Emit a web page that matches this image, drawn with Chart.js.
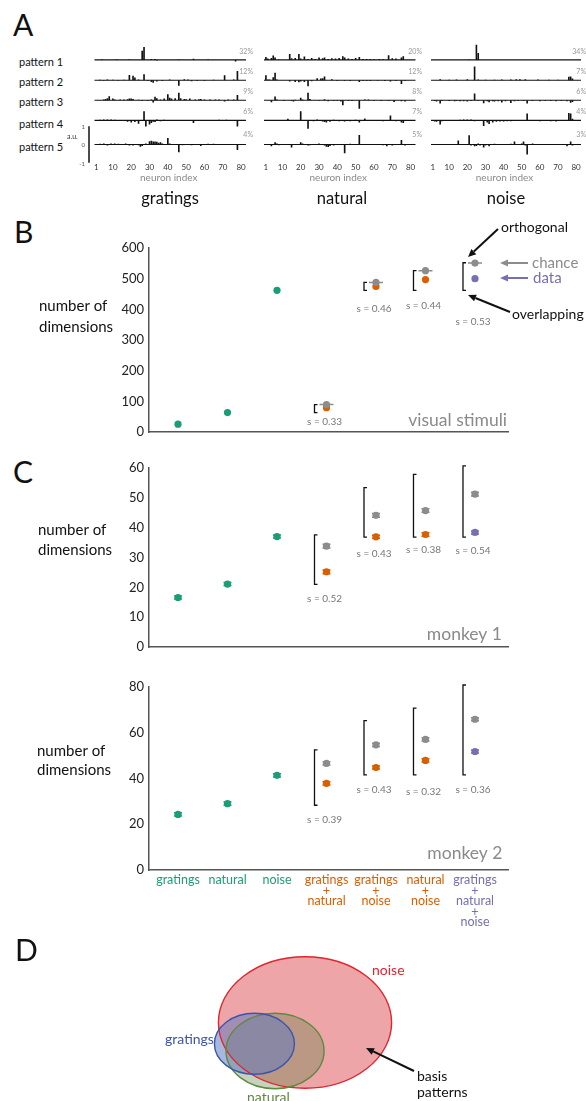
<!DOCTYPE html>
<html>
<head>
<meta charset="utf-8">
<script src="https://cdn.jsdelivr.net/npm/chart.js@4.4.1/dist/chart.umd.min.js"></script>
<style>
  body { margin: 0; width: 586px; height: 1101px; overflow: hidden; background: #fff; position: relative; font-family: Lato, "Open Sans", sans-serif; }
  canvas { position: absolute; }
  .t { position: absolute; white-space: nowrap; line-height: 1; }
</style>
</head>
<body>
<script>
// ---------- panel A: basis patterns (sparse: [neuron, value], rest are 0) ----------
const neuronTicks = [1, 10, 20, 30, 40, 50, 60, 70, 80];
const patternNames = ['pattern 1', 'pattern 2', 'pattern 3', 'pattern 4', 'pattern 5'];
const stimNames = ['gratings', 'natural', 'noise'];
const gratingsPct = ['32%', '12%', '9%', '6%', '4%'];
const naturalPct = ['20%', '12%', '8%', '7%', '5%'];
const noisePct = ['34%', '7%', '6%', '4%', '3%'];

const gratingsP1 = [[4,0.02],[12,0.02],[19,0.03],[26,0.55],[27,0.78],[31,0.06],[33,0.05],[34,-0.03],[46,0.03],[54,0.07],[62,0.02],[77,-0.09]];
const gratingsP2 = [[3,0.03],[5,-0.03],[7,0.04],[10,0.03],[13,-0.03],[16,0.03],[19,0.31],[21,0.27],[22,0.17],[24,0.05],[27,0.36],[29,-0.05],[31,-0.1],[32,-0.15],[34,-0.08],[37,-0.05],[41,0.04],[46,-0.33],[49,0.06],[51,0.05],[53,-0.06],[56,-0.04],[60,-0.05],[65,0.03],[71,0.3],[76,0.04],[78,0.55]];
const gratingsP3 = [[5,0.05],[6,0.08],[7,0.12],[8,0.24],[10,0.1],[11,0.05],[14,0.05],[16,0.04],[18,0.06],[19,0.1],[20,0.1],[21,0.08],[24,0.03],[26,-0.05],[29,-0.05],[31,0.05],[32,-0.14],[33,0.2],[34,0.12],[36,0.05],[38,0.1],[40,0.36],[41,0.15],[42,0.1],[44,0.12],[46,0.45],[47,0.12],[49,0.08],[50,0.06],[52,0.1],[55,0.04],[57,0.06],[58,0.08],[60,0.05],[63,0.04],[66,0.05],[68,0.04],[71,-0.08],[73,0.05],[76,0.04],[78,0.31]];
const gratingsP4 = [[3,0.04],[5,0.05],[7,0.05],[9,0.06],[11,0.04],[18,-0.08],[20,-0.12],[22,-0.1],[24,-0.2],[27,0.55],[28,-0.36],[30,-0.25],[31,-0.15],[32,-0.08],[33,-0.1],[34,0.05],[36,-0.05],[38,0.04],[41,-0.04],[45,0.03],[49,0.03],[54,-0.16],[58,0.03],[63,0.03],[68,0.04],[72,0.04],[78,-0.36]];
const gratingsP5 = [[3,0.04],[5,0.06],[7,-0.05],[9,0.05],[11,0.05],[13,0.04],[17,0.05],[19,-0.05],[21,-0.06],[24,-0.04],[25,-0.12],[26,-0.08],[28,0.05],[30,0.18],[31,0.2],[32,0.16],[33,0.16],[34,0.15],[35,0.1],[36,0.12],[37,0.05],[40,0.36],[41,0.05],[46,-0.42],[48,-0.04],[53,-0.04],[58,-0.08],[62,0.04],[65,0.04],[68,0.03],[73,0.03],[78,-0.3]];

const naturalP1 = [[1,0.18],[2,0.08],[4,0.12],[5,0.27],[6,0.15],[8,0.03],[14,0.36],[15,0.1],[17,0.12],[19,0.36],[20,0.08],[22,0.2],[24,0.05],[26,0.12],[28,0.05],[30,0.15],[32,0.1],[33,0.15],[35,0.05],[37,0.1],[39,0.08],[41,0.12],[43,0.22],[44,0.15],[46,0.08],[48,0.05],[50,0.12],[52,0.18],[54,0.06],[56,0.05],[58,0.05],[60,0.04],[63,0.05],[65,0.04],[68,0.28],[70,0.1],[72,0.08],[75,0.15],[76,0.22]];
const naturalP2 = [[1,0.3],[2,0.05],[3,0.05],[5,0.18],[6,0.45],[7,0.05],[14,-0.08],[17,-0.1],[19,-0.12],[20,-0.08],[22,-0.1],[24,-0.36],[26,-0.06],[29,0.12],[31,0.1],[32,0.12],[33,0.22],[37,0.06],[40,-0.04],[44,-0.05],[47,-0.04],[52,-0.1],[54,-0.05],[56,-0.04],[58,-0.05],[62,-0.03],[66,-0.04],[69,-0.08],[72,-0.04],[75,-0.22],[77,-0.05]];
const naturalP3 = [[4,-0.12],[6,0.22],[7,0.05],[11,-0.04],[15,-0.04],[16,-0.08],[17,0.03],[20,0.15],[21,0.05],[24,0.45],[25,0.08],[30,-0.03],[33,0.06],[35,-0.06],[38,-0.04],[40,-0.05],[42,-0.08],[43,-0.3],[46,-0.05],[48,-0.04],[52,-0.5],[55,0.05],[57,0.05],[60,-0.04],[64,-0.05],[68,-0.05],[71,-0.1],[75,-0.06],[77,-0.08]];
const naturalP4 = [[3,-0.03],[8,-0.04],[13,0.1],[20,0.55],[24,-0.51],[27,-0.05],[29,0.05],[32,-0.06],[33,-0.1],[34,-0.12],[36,-0.08],[38,0.04],[41,-0.05],[44,-0.06],[47,-0.05],[50,0.04],[52,-0.12],[55,0.12],[59,-0.04],[62,0.03],[65,-0.05],[69,0.3],[72,-0.05],[75,-0.12],[76,-0.15]];
const naturalP5 = [[4,-0.1],[6,0.12],[7,0.05],[8,-0.04],[10,-0.03],[11,-0.03],[15,-0.16],[18,0.03],[20,0.12],[21,0.06],[24,-0.05],[25,-0.04],[28,0.03],[30,0.06],[33,-0.05],[34,-0.12],[35,-0.13],[36,-0.08],[38,-0.05],[40,0.03],[44,-0.48],[47,0.04],[52,0.52],[55,0.03],[60,0.03],[65,-0.04],[67,-0.1],[70,-0.05],[75,0.25],[77,-0.05]];

const noiseP1 = [[21,0.02],[25,0.91],[26,0.42]];
const noiseP2 = [[5,0.06],[10,0.03],[14,0.05],[20,0.06],[24,0.82],[26,0.04],[30,0.03],[35,0.03],[39,0.04],[44,0.05],[47,0.06],[49,0.06],[52,0.06],[59,0.05],[65,0.03],[70,0.03],[76,0.2],[77,0.22],[78,0.1]];
const noiseP3 = [[2,-0.05],[3,-0.08],[5,-0.2],[6,-0.05],[10,-0.05],[13,-0.06],[14,-0.05],[16,-0.06],[18,-0.06],[20,-0.08],[22,-0.05],[24,0.4],[26,-0.04],[29,-0.18],[31,-0.06],[32,-0.12],[34,-0.06],[35,-0.08],[37,-0.06],[39,-0.14],[41,-0.06],[44,-0.16],[46,-0.06],[48,-0.05],[51,-0.05],[53,-0.2],[56,-0.05],[60,-0.06],[63,-0.04],[66,-0.05],[69,-0.06],[72,-0.05],[75,-0.06],[77,-0.15],[78,-0.1]];
const noiseP4 = [[2,-0.06],[3,-0.08],[5,-0.25],[6,-0.05],[9,-0.04],[12,-0.04],[16,0.04],[18,0.05],[20,0.05],[22,0.06],[24,-0.05],[26,-0.04],[29,-0.33],[31,-0.12],[32,-0.22],[34,-0.12],[36,-0.08],[38,-0.06],[40,-0.06],[42,-0.05],[44,-0.05],[46,-0.04],[53,0.42],[57,-0.04],[60,-0.05],[63,-0.04],[66,-0.05],[69,-0.06],[72,-0.04],[76,0.45],[77,0.42],[78,0.1]];
const noiseP5 = [[2,-0.03],[6,-0.03],[10,0.02],[15,0.22],[16,-0.03],[21,0.5],[22,-0.05],[24,-0.1],[25,-0.08],[26,0.05],[27,-0.05],[29,-0.16],[30,-0.06],[32,-0.1],[35,0.04],[40,0.03],[44,0.04],[46,0.17],[50,0.05],[51,0.16],[52,-0.06],[53,-0.55],[56,0.06],[60,0.03],[66,0.03],[70,0.03],[75,-0.1],[77,0.16],[78,-0.05]];

// ---------- panels B and C: number of dimensions ----------
const categoryLines = [['gratings'], ['natural'], ['noise'], ['gratings', '+', 'natural'], ['gratings', '+', 'noise'], ['natural', '+', 'noise'], ['gratings', '+', 'natural', '+', 'noise']];

const visualData = [26, 64, 462, 80, 475, 497, 500];
const visualChance = [null, null, null, 90, 488, 526, 551];
const visualChanceErr = [null, null, null, 0, 0, 0, 0];
const visualLow = [null, null, null, 64, 462, 462, 462];
const visualHigh = [null, null, null, 90, 488, 526, 552];
const visualS = [null, null, null, '0.33', '0.46', '0.44', '0.53'];

const monkey1Data = [16.6, 21.1, 37.0, 25.2, 36.9, 37.7, 38.4];
const monkey1DataErr = [0.5, 0.5, 0.5, 0.6, 0.5, 0.6, 0.5];
const monkey1Chance = [null, null, null, 33.8, 44.1, 45.7, 51.2];
const monkey1ChanceErr = [null, null, null, 0.6, 0.6, 0.6, 0.6];
const monkey1Low = [null, null, null, 21.0, 36.8, 36.8, 36.8];
const monkey1High = [null, null, null, 37.6, 53.4, 57.8, 74.6];
const monkey1S = [null, null, null, '0.52', '0.43', '0.38', '0.54'];

const monkey2Data = [24.3, 29.0, 41.4, 37.9, 44.8, 47.9, 51.8];
const monkey2DataErr = [0.7, 0.7, 0.7, 0.7, 0.7, 0.7, 0.7];
const monkey2Chance = [null, null, null, 46.6, 54.7, 57.1, 65.9];
const monkey2ChanceErr = [null, null, null, 0.7, 0.7, 0.7, 0.7];
const monkey2Low = [null, null, null, 28.3, 41.6, 41.6, 41.6];
const monkey2High = [null, null, null, 52.5, 65.3, 70.8, 94.7];
const monkey2S = [null, null, null, '0.39', '0.43', '0.32', '0.36'];

// ---------- panel D: venn of basis pattern sets ----------
const vennSets = ['noise', 'natural', 'gratings'];
const vennCx = [0, -3.46, -5.84];
const vennCy = [0, -3.29, -2.46];
const vennRx = [10, 5.66, 4.62];
const vennRy = [7.6, 4.36, 3.52];

// ---------- styles ----------
const FONT = 'Lato, "Open Sans", sans-serif';
const GREEN = '#1b9e77', ORANGE = '#d95f02', PURPLE = '#7570b3', GRAY = '#8c8c8c';
const categoryColors = [GREEN, GREEN, GREEN, ORANGE, ORANGE, ORANGE, PURPLE];
const vennFill = ['#eea5a8', 'rgba(89,129,66,0.35)', 'rgba(100,124,191,0.55)'];
const vennStroke = ['#e0252f', '#5d8a3e', '#3a55b0'];

Chart.defaults.font.family = FONT;
Chart.defaults.animation = false;

function put(text, x, y, size, color, align) {
  const d = document.createElement('div');
  d.className = 't';
  d.textContent = text;
  d.style.fontSize = size + 'px';
  d.style.color = color;
  d.style.left = x + 'px';
  d.style.top = y + 'px';
  const tx = align === 'center' ? '-50%' : align === 'right' ? '-100%' : '0';
  d.style.transform = `translate(${tx}, -50%)`;
  document.body.appendChild(d);
}

function makeCanvas(x, y, w, h) {
  const c = document.createElement('canvas');
  c.width = w; c.height = h;
  c.style.left = x + 'px'; c.style.top = y + 'px';
  c.style.width = w + 'px'; c.style.height = h + 'px';
  document.body.appendChild(c);
  return c;
}

function drawArrow(ctx, x1, y1, x2, y2, color) {
  const ang = Math.atan2(y2 - y1, x2 - x1), hl = 8, hw = 3.6;
  const bx = x2 - hl * Math.cos(ang), by = y2 - hl * Math.sin(ang);
  ctx.strokeStyle = color; ctx.fillStyle = color; ctx.lineWidth = 2;
  ctx.beginPath(); ctx.moveTo(x1, y1); ctx.lineTo(bx, by); ctx.stroke();
  ctx.beginPath();
  ctx.moveTo(x2, y2);
  ctx.lineTo(bx + hw * Math.sin(ang), by - hw * Math.cos(ang));
  ctx.lineTo(bx - hw * Math.sin(ang), by + hw * Math.cos(ang));
  ctx.closePath(); ctx.fill();
}

// free texts and arrows, given in page coordinates
function notesPlugin(spec) {
  return {
    id: 'notes',
    afterDraw(chart) {
      const ctx = chart.ctx;
      const ox = parseFloat(chart.canvas.style.left), oy = parseFloat(chart.canvas.style.top);
      ctx.save();
      (spec.arrows || []).forEach(a => drawArrow(ctx, a[0] - ox, a[1] - oy, a[2] - ox, a[3] - oy, a[4]));
      (spec.texts || []).forEach(t => {
        ctx.font = `${t.size}px ${FONT}`;
        ctx.fillStyle = t.color || '#111';
        ctx.textAlign = t.align || 'left';
        ctx.textBaseline = 'middle';
        ctx.fillText(t.text, t.x - ox, t.y - oy);
      });
      ctx.restore();
    }
  };
}

// error bars, brackets and s labels
function marksPlugin(o) {
  return {
    id: 'marks',
    afterDatasetsDraw(chart) {
      const {ctx, chartArea} = chart;
      const xs = chart.scales.x, ys = chart.scales.y;
      ctx.save();
      chart.data.datasets.forEach(ds => {
        ds.data.forEach(p => {
          if (p.e == null) return;
          const x = xs.getPixelForValue(p.x);
          const y1 = ys.getPixelForValue(p.y + p.e), y2 = ys.getPixelForValue(p.y - p.e);
          ctx.strokeStyle = ds.name === 'chance' ? GRAY : categoryColors[p.x];
          ctx.lineWidth = 1.5;
          ctx.beginPath();
          ctx.moveTo(x, y1); ctx.lineTo(x, y2);
          ctx.moveTo(x - o.capW / 2, y1); ctx.lineTo(x + o.capW / 2, y1);
          ctx.moveTo(x - o.capW / 2, y2); ctx.lineTo(x + o.capW / 2, y2);
          ctx.stroke();
        });
      });
      let k = 0;
      o.lo.forEach((lo, i) => {
        if (lo == null) return;
        const cx = xs.getPixelForValue(i);
        const x = cx - 12;
        const yTop = Math.max(ys.getPixelForValue(o.hi[i]), chartArea.top - 2);
        const yBot = ys.getPixelForValue(lo);
        ctx.strokeStyle = '#111'; ctx.lineWidth = 1.3;
        ctx.beginPath();
        ctx.moveTo(x + 3, yTop); ctx.lineTo(x, yTop); ctx.lineTo(x, yBot); ctx.lineTo(x + 3, yBot);
        ctx.stroke();
        ctx.font = `10px ${FONT}`; ctx.fillStyle = '#777';
        ctx.textAlign = 'center'; ctx.textBaseline = 'middle';
        ctx.fillText('s = ' + o.s[i], cx - 2, yBot + o.sDy[k]);
        k++;
      });
      ctx.restore();
    }
  };
}

function points(values, errs) {
  const out = [];
  values.forEach((v, i) => { if (v != null) out.push({x: i, y: v, e: errs ? errs[i] : null}); });
  return out;
}

// one "number of dimensions" panel
function dimChart(c) {
  const cv = makeCanvas(0, c.top, 586, c.height);
  const A = c.area;
  const dataPts = points(c.data, c.dataErr);
  new Chart(cv, {
    type: 'scatter',
    data: {
      datasets: [
        {name: 'chance', data: points(c.chance, c.chanceErr), backgroundColor: GRAY},
        {name: 'data', data: dataPts, backgroundColor: dataPts.map(p => categoryColors[p.x])}
      ]
    },
    options: {
      responsive: false, devicePixelRatio: 1,
      layout: {padding: {left: 0, right: 586 - A.right, top: A.top - c.top, bottom: 0}},
      elements: {point: {radius: 3.6, hoverRadius: 3.6, borderWidth: 0}},
      plugins: {legend: {display: false}, tooltip: {enabled: false}},
      scales: {
        x: {
          type: 'linear', min: -0.586, max: 6.667,
          grid: {display: false, drawTicks: false},
          border: {color: '#555', width: 1.5},
          afterBuildTicks: s => { s.ticks = categoryLines.map((_, i) => ({value: i})); },
          ticks: {
            display: !!c.showX, autoSkip: false, maxRotation: 0, padding: 5,
            font: {size: 12.5, lineHeight: 0.84},
            color: ctx => categoryColors[ctx.index],
            callback: (v, i) => categoryLines[i]
          },
          afterFit: s => { s.height = c.top + c.height - A.bottom; }
        },
        y: {
          min: 0, max: c.max,
          grid: {display: false, drawTicks: false},
          border: {color: '#555', width: 1.5},
          ticks: {stepSize: c.step, padding: 5, color: '#222', font: {size: 13}},
          afterFit: s => { s.width = A.left; }
        }
      }
    },
    plugins: [marksPlugin(c.marks), notesPlugin(c.notes)]
  });
}

// one basis pattern bar plot
const AU = 18.3;
const colEdges = [[95.5, 242], [265, 411.5], [432, 577]];
const rowBase = [61.5, 81.7, 101.7, 122.2, 144.5];
const neuronLabels = Array.from({length: 80}, (_, i) => String(i + 1));

function expand(sparse) {
  const v = new Array(80).fill(0);
  sparse.forEach(([n, y]) => { v[n - 1] = y; });
  return v;
}

function patternChart(col, row, sparse) {
  const [L, R] = colEdges[col];
  const b = rowBase[row];
  const last = row === 4;
  const yMin = last ? -1 : -0.65, yMax = 1;
  const top = b - yMax * AU, bottom = b - yMin * AU;
  const cx = Math.floor(L) - 32, cy = Math.floor(top) - 2;
  const cw = Math.ceil(R) + 10 - cx;
  const ch = (last ? 184 : Math.ceil(bottom) + 2) - cy;
  const cv = makeCanvas(cx, cy, cw, ch);
  const baseline = {
    id: 'baseline',
    beforeDatasetsDraw(chart) {
      const {ctx, chartArea: a} = chart;
      const ys = chart.scales.y;
      const y0 = ys.getPixelForValue(0);
      ctx.save();
      ctx.strokeStyle = '#111'; ctx.lineWidth = 1.2;
      ctx.beginPath(); ctx.moveTo(a.left - 1, y0); ctx.lineTo(a.right + 4, y0); ctx.stroke();
      if (last && col === 0) {
        const bx = a.left - 6.5;
        ctx.lineWidth = 1.5;
        ctx.beginPath(); ctx.moveTo(bx, ys.getPixelForValue(1)); ctx.lineTo(bx, ys.getPixelForValue(-1)); ctx.stroke();
        ctx.fillStyle = '#555'; ctx.font = `6px ${FONT}`;
        ctx.textAlign = 'right'; ctx.textBaseline = 'middle';
        [1, 0, -1].forEach(v => ctx.fillText(String(v), bx - 4, ys.getPixelForValue(v) + 1));
        ctx.font = `7px ${FONT}`; ctx.textAlign = 'left'; ctx.fillStyle = '#333';
        ctx.fillText('a.u.', bx - 22, ys.getPixelForValue(0.4));
      }
      ctx.restore();
    }
  };
  new Chart(cv, {
    type: 'bar',
    data: {labels: neuronLabels, datasets: [{data: expand(sparse), backgroundColor: '#111', categoryPercentage: 1, barPercentage: 0.9}]},
    options: {
      responsive: false, devicePixelRatio: 1,
      layout: {padding: {left: L - cx, right: cx + cw - R, top: top - cy, bottom: last ? 0 : cy + ch - bottom}},
      plugins: {legend: {display: false}, tooltip: {enabled: false}},
      scales: {
        x: {
          display: last,
          grid: {display: false, drawTicks: false},
          border: {display: false},
          ticks: {
            autoSkip: false, maxRotation: 0, padding: 0, color: '#333', font: {size: 8},
            callback: (v, i) => neuronTicks.includes(i + 1) ? String(i + 1) : ''
          },
          title: {display: true, text: 'neuron index', color: '#8a8a8a', font: {size: 10}, padding: 0},
          afterFit: s => { s.height = cy + ch - bottom; }
        },
        y: {display: false, min: yMin, max: yMax}
      }
    },
    plugins: [baseline]
  });
}

// ---------- panel A ----------
put('A', 13, 24, 30, '#111');
patternNames.forEach((n, r) => put(n, 19, [61, 80.5, 101, 123, 146][r], 11, '#111'));
const allPatterns = [
  [gratingsP1, gratingsP2, gratingsP3, gratingsP4, gratingsP5],
  [naturalP1, naturalP2, naturalP3, naturalP4, naturalP5],
  [noiseP1, noiseP2, noiseP3, noiseP4, noiseP5]
];
const allPct = [gratingsPct, naturalPct, noisePct];
const pctRight = [253, 422, 586];
const titleX = [170, 342, 506];
allPatterns.forEach((col, c) => {
  col.forEach((sp, r) => {
    patternChart(c, r, sp);
    put(allPct[c][r], pctRight[c], rowBase[r] - 11, 7, '#999', 'right');
  });
  put(stimNames[c], titleX[c], 198, 16.5, '#111', 'center');
});

// ---------- panel B ----------
put('B', 14, 231, 30, '#111');
dimChart({
  top: 205, height: 240, area: {left: 149, right: 508, top: 248, bottom: 435},
  max: 600, step: 100,
  data: visualData, dataErr: null, chance: visualChance, chanceErr: visualChanceErr,
  marks: {lo: visualLow, hi: visualHigh, s: visualS, sDy: [9, 18, 15, 31], capW: 14},
  notes: {
    texts: [
      {text: 'number of', x: 39, y: 306, size: 15},
      {text: 'dimensions', x: 39, y: 327, size: 15},
      {text: 'orthogonal', x: 501, y: 227, size: 14},
      {text: 'chance', x: 532, y: 263, size: 15, color: GRAY},
      {text: 'data', x: 533, y: 278, size: 15, color: PURPLE},
      {text: 'overlapping', x: 512, y: 314, size: 14},
      {text: 'visual stimuli', x: 507, y: 420, size: 17.5, color: '#8a8a8a', align: 'right'}
    ],
    arrows: [
      [498, 229, 468, 257, '#111'],
      [528, 263, 500, 263, GRAY],
      [528, 278, 500, 278, PURPLE],
      [510, 312, 468, 295, '#111']
    ]
  }
});

// ---------- panel C ----------
put('C', 13, 471, 30, '#111');
dimChart({
  top: 455, height: 205, area: {left: 149, right: 508, top: 467, bottom: 651},
  max: 60, step: 10,
  data: monkey1Data, dataErr: monkey1DataErr, chance: monkey1Chance, chanceErr: monkey1ChanceErr,
  marks: {lo: monkey1Low, hi: monkey1High, s: monkey1S, sDy: [14, 17, 13, 14], capW: 8},
  notes: {
    texts: [
      {text: 'number of', x: 38, y: 530, size: 15},
      {text: 'dimensions', x: 38, y: 550, size: 15},
      {text: 'monkey 1', x: 502, y: 634, size: 17.5, color: '#8a8a8a', align: 'right'}
    ]
  }
});

dimChart({
  top: 672, height: 260, area: {left: 149, right: 508, top: 687, bottom: 870},
  max: 80, step: 20, showX: true,
  data: monkey2Data, dataErr: monkey2DataErr, chance: monkey2Chance, chanceErr: monkey2ChanceErr,
  marks: {lo: monkey2Low, hi: monkey2High, s: monkey2S, sDy: [15, 15, 17, 15], capW: 8},
  notes: {
    texts: [
      {text: 'number of', x: 37, y: 751, size: 15},
      {text: 'dimensions', x: 37, y: 770, size: 15},
      {text: 'monkey 2', x: 502.5, y: 853, size: 17.5, color: '#8a8a8a', align: 'right'}
    ]
  }
});

// ---------- panel D ----------
put('D', 15, 949, 30, '#111');
(function () {
  const cv = makeCanvas(0, 930, 586, 171);
  const venn = {
    id: 'venn',
    beforeDatasetsDraw(chart) {
      const ctx = chart.ctx, xs = chart.scales.x, ys = chart.scales.y;
      const shapes = vennSets.map((_, i) => ({
        x: xs.getPixelForValue(vennCx[i]), y: ys.getPixelForValue(vennCy[i]),
        rx: xs.getPixelForValue(vennCx[i] + vennRx[i]) - xs.getPixelForValue(vennCx[i]),
        ry: ys.getPixelForValue(vennCy[i]) - ys.getPixelForValue(vennCy[i] + vennRy[i])
      }));
      ctx.save();
      shapes.forEach((s, i) => {
        ctx.beginPath(); ctx.ellipse(s.x, s.y, s.rx, s.ry, 0, 0, Math.PI * 2);
        ctx.fillStyle = vennFill[i]; ctx.fill();
      });
      shapes.forEach((s, i) => {
        ctx.beginPath(); ctx.ellipse(s.x, s.y, s.rx, s.ry, 0, 0, Math.PI * 2);
        ctx.strokeStyle = vennStroke[i]; ctx.lineWidth = 1.4; ctx.stroke();
      });
      ctx.restore();
    }
  };
  new Chart(cv, {
    type: 'scatter',
    data: {datasets: [{data: []}]},
    options: {
      responsive: false, devicePixelRatio: 1,
      layout: {padding: {left: 131.8, right: 107.8, top: 5.9, bottom: 0.6}},
      plugins: {legend: {display: false}, tooltip: {enabled: false}},
      scales: {
        x: {display: false, min: -20, max: 20},
        y: {display: false, min: -9, max: 10}
      }
    },
    plugins: [venn, notesPlugin({
      texts: [
        {text: 'noise', x: 372, y: 970, size: 14, color: vennStroke[0]},
        {text: 'gratings', x: 165, y: 1039, size: 14, color: vennStroke[2]},
        {text: 'natural', x: 247, y: 1097, size: 14, color: vennStroke[1]},
        {text: 'basis', x: 417, y: 1076, size: 14},
        {text: 'patterns', x: 417, y: 1092, size: 14}
      ],
      arrows: [[414, 1071, 366, 1048, '#111']]
    })]
  });
})();
</script>
</body>
</html>
